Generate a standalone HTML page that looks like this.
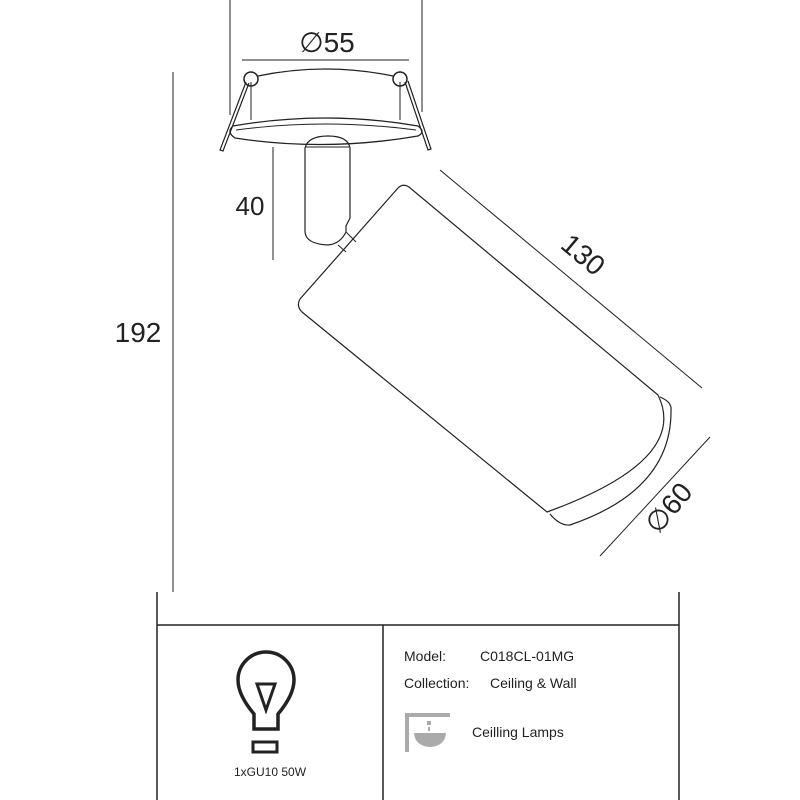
<!DOCTYPE html>
<html><head><style>body{margin:0;background:#fff}svg{display:block}text{font-family:"Liberation Sans",sans-serif;fill:#222}</style></head><body>
<svg width="800" height="800" viewBox="0 0 800 800" fill="none" stroke="#222" stroke-width="1">
<!-- top dims -->
<line x1="230" y1="0" x2="230" y2="115"/>
<line x1="422" y1="0" x2="422" y2="112"/>
<line x1="242" y1="60" x2="409" y2="60"/>
<text x="327" y="52" font-size="28" text-anchor="middle" stroke="none">∅55</text>
<!-- trim -->
<path d="M258 76 Q325 62 393 76" stroke-width="1.2"/>
<line x1="251" y1="82" x2="251" y2="120"/><line x1="400" y1="82" x2="400" y2="120"/>
<circle cx="251" cy="79" r="7" stroke-width="1.5"/><circle cx="400" cy="79" r="7" stroke-width="1.5"/>
<path d="M246 82 L220 150 L223 151 L249 83" stroke-width="1.2"/>
<path d="M405 82 L428 150 L431 149 L408 81" stroke-width="1.2"/>
<path d="M233 126 Q325 110 418 126 Q426 132 418 136 Q325 152 235 138 Q226 132 233 126 Z" stroke-width="1.3"/>
<path d="M236 130 Q325 118 416 130" />
<!-- stem -->
<path d="M305 148 Q308 136 328 136 Q348 136 350 148 L350 218 L346 226 L346 232 Q340 244 328 245 Q306 244 305 232 Z" stroke-width="1.2"/>
<line x1="306" y1="147" x2="349" y2="147"/>
<path d="M338 245 L346 252 M346 232 L356 242" />
<line x1="273" y1="147" x2="273" y2="260"/>
<text x="250" y="215" font-size="26" text-anchor="middle" stroke="none">40</text>
<!-- 192 -->
<line x1="173" y1="72" x2="173" y2="592"/>
<text x="138" y="342" font-size="28" text-anchor="middle" stroke="none">192</text>
<!-- cylinder -->
<path d="M398 188 Q403 183 409 187 L658 395 Q690 460 547 512 L302 312 Q296 306 300 299 Z" stroke-width="1.2"/>
<path d="M660 397 Q672 402 671 410 Q672 490 570 525 Q560 526 550 514" stroke-width="1.2"/>
<line x1="440" y1="170" x2="702" y2="388"/>
<text x="0" y="0" font-size="28" text-anchor="middle" stroke="none" transform="translate(577,262) rotate(40)">130</text>
<line x1="710" y1="437" x2="600" y2="556"/>
<text x="0" y="0" font-size="28" text-anchor="middle" stroke="none" transform="translate(676,514) rotate(-50)">∅60</text>
<!-- box -->
<line x1="157" y1="592" x2="157" y2="800" stroke-width="1.5"/>
<line x1="679" y1="592" x2="679" y2="800" stroke-width="1.5"/>
<line x1="157" y1="625" x2="679" y2="625" stroke-width="1.5"/>
<line x1="383" y1="625" x2="383" y2="800" stroke-width="1.5"/>
<!-- bulb -->
<path d="M254 729 L254 714 Q238 695 238 680 A28 28 0 1 1 294 680 Q294 695 278 714 L278 729 Z" stroke-width="3.5"/>
<path d="M257 684 L275 684 L266 710 Z" stroke-width="3"/>
<rect x="253" y="742" width="24" height="10" stroke-width="3"/>
<text x="270" y="776" font-size="12" text-anchor="middle" stroke="none">1xGU10 50W</text>
<text x="404" y="661" font-size="14" stroke="none">Model:</text>
<text x="480" y="661" font-size="14" stroke="none">C018CL-01MG</text>
<text x="404" y="688" font-size="14" stroke="none">Collection:</text>
<text x="490" y="688" font-size="14" stroke="none">Ceiling &amp; Wall</text>
<text x="472" y="737" font-size="14" stroke="none">Ceilling Lamps</text>
<!-- icon -->
<g stroke="none" fill="#aaa">
<rect x="405" y="713" width="45" height="4"/>
<rect x="405" y="713" width="4" height="39"/>
<rect x="427" y="721" width="4" height="4"/>
<rect x="428" y="727" width="2" height="4"/>
<path d="M414 733 L446 733 Q445 746 430 747 Q415 746 414 733 Z"/>
</g>
</svg>
</body></html>
